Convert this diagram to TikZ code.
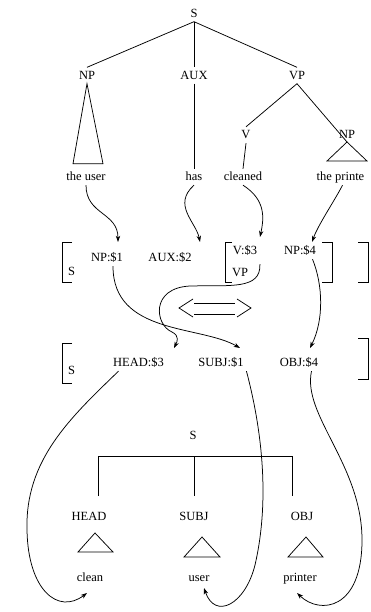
\documentclass[tikz,border=0pt]{standalone}
\usepackage{fontspec}
\setmainfont{Liberation Serif}
\usetikzlibrary{arrows.meta}

\begin{document}
\begin{tikzpicture}[x=0.8pt,y=-0.8pt,line width=0.6pt,
  word/.style={inner sep=2pt,text height=1.6ex,text depth=.25ex},
  link/.style={-{Stealth[length=5pt,width=3.5pt,inset=1.5pt]}}]
\useasboundingbox (0,0) rectangle (370,612);
\node[word] (s) at (194,13.5) {S};
\node[word] (np) at (87,75.5) {NP};
\node[word] (aux) at (194,75.5) {AUX};
\node[word] (vp) at (297,75.5) {VP};
\node[word] (v) at (246,135) {V};
\node[word] (npobj) at (347,135) {NP};
\coordinate (npapex) at (347,142);
\node[word] (theuser) at (86,177) {the user};
\node[word] (has) at (194,177) {has};
\node[word] (cleaned) at (243,177) {cleaned};
\node[word] (theprinter) at (340.5,177) {the printe};
\draw (s.south) -- (np.north);
\draw (s.south) -- (aux.north);
\draw (s.south) -- (vp.north);
\draw (np.south) -- ++(-14,80) -- ++(30,0) -- cycle;
\draw (aux.south) -- (has.north);
\draw (vp.south) -- (v.north);
\draw (vp.south) -- (npapex);
\draw (npapex) -- ++(-20,19) -- ++(40,0) -- cycle;
\draw (v.south) -- (cleaned.north);
\node[word] (m1s) at (71.5,272) {S};
\node[word] (m1np) at (107,258) {NP:\$1};
\node[word] (m1aux) at (170,258) {AUX:\$2};
\node[word] (m1v) at (245,251) {V:\$3};
\node[word] (m1vp) at (240,273) {VP};
\node[word] (m1npobj) at (300,251) {NP:\$4};
\draw (72,242) -- (62,242) -- (62,282) -- (72,282);
\draw (232,242) -- (225,242) -- (225,282) -- (232,282);
\draw (322,242) -- (332,242) -- (332,282) -- (322,282);
\draw (358,242) -- (368,242) -- (368,282) -- (358,282);
\coordinate (tipuser) at (118,242);
\coordinate (tiphas) at (200,242);
\coordinate (tipcleaned) at (260,237);
\coordinate (tipprinter) at (312,242);
\draw[link] (theuser.south) .. controls (86,215) and (118,212) .. (tipuser);
\draw[link] (has.south) .. controls (172,205) and (196,222) .. (tiphas);
\draw[link] (cleaned.south) .. controls (266,200) and (264,218) .. (tipcleaned);
\draw[link] ([xshift=1.6pt]theprinter.south) .. controls (335,200) and (318,225) .. (tipprinter);
\draw (193,299) -- (179,308) -- (193,317);
\draw (237,299) -- (251,308) -- (237,317);
\draw (194,303) -- (235,303);
\draw (194,314) -- (235,314);
\node[word] (m2s) at (71.5,371) {S};
\node[word] (m2head) at (138.5,363) {HEAD:\$3};
\node[word] (m2subj) at (221,363) {SUBJ:\$1};
\node[word] (m2obj) at (299,363) {OBJ:\$4};
\draw (72,343) -- (62,343) -- (62,383) -- (72,383);
\draw (358,338) -- (368,338) -- (368,379) -- (358,379);
\coordinate (tiphead) at (174,348);
\coordinate (tipsubj) at (240,348);
\coordinate (tipobj) at (310,348);
\draw[link] ([xshift=4.8pt]m1np.south) .. controls (113,335) and (200,325) .. (tipsubj);
\draw[link] ([yshift=-4pt]m1v.south east) .. controls (261,290) and (230,285) .. (190,286) .. controls (150,288) and (155,325) .. (172,332) .. controls (180,336) and (177,342) .. (tiphead);
\draw[link] ([xshift=10pt]m1npobj.south) .. controls (323,285) and (324,320) .. (tipobj);
\node[word] (t2s) at (193,436) {S};
\node[word] (t2head) at (89,517) {HEAD};
\node[word] (t2subj) at (194,517) {SUBJ};
\node[word] (t2obj) at (302,517) {OBJ};
\draw (98,496) -- (98,456) -- (292,456) -- (292,496);
\draw (194,456) -- (194,496);
\draw (95,533) -- ++(-17,19) -- ++(35,0) -- cycle;
\draw (202,537) -- ++(-18,20) -- ++(36,0) -- cycle;
\draw (306,537) -- ++(-18,20) -- ++(35,0) -- cycle;
\node[word] (clean) at (90,578) {clean};
\node[word] (user) at (199,578) {user};
\node[word] (printer) at (300,578) {printer};
\coordinate (tipclean) at (87,593);
\coordinate (tipuser2) at (204,588);
\coordinate (tipprinter2) at (297,593);
\draw[link] ([xshift=-16pt]m2head.south) .. controls (70,418) and (25,460) .. (27,530) .. controls (28,590) and (58,615) .. (tipclean);
\draw[link] (m2subj.south east) .. controls (262,430) and (270,500) .. (255,565) .. controls (245,605) and (215,620) .. (tipuser2);
\draw[link] ([xshift=10pt]m2obj.south) .. controls (302,415) and (362,465) .. (362,540) .. controls (362,610) and (320,615) .. (tipprinter2);
\end{tikzpicture}
\end{document}
